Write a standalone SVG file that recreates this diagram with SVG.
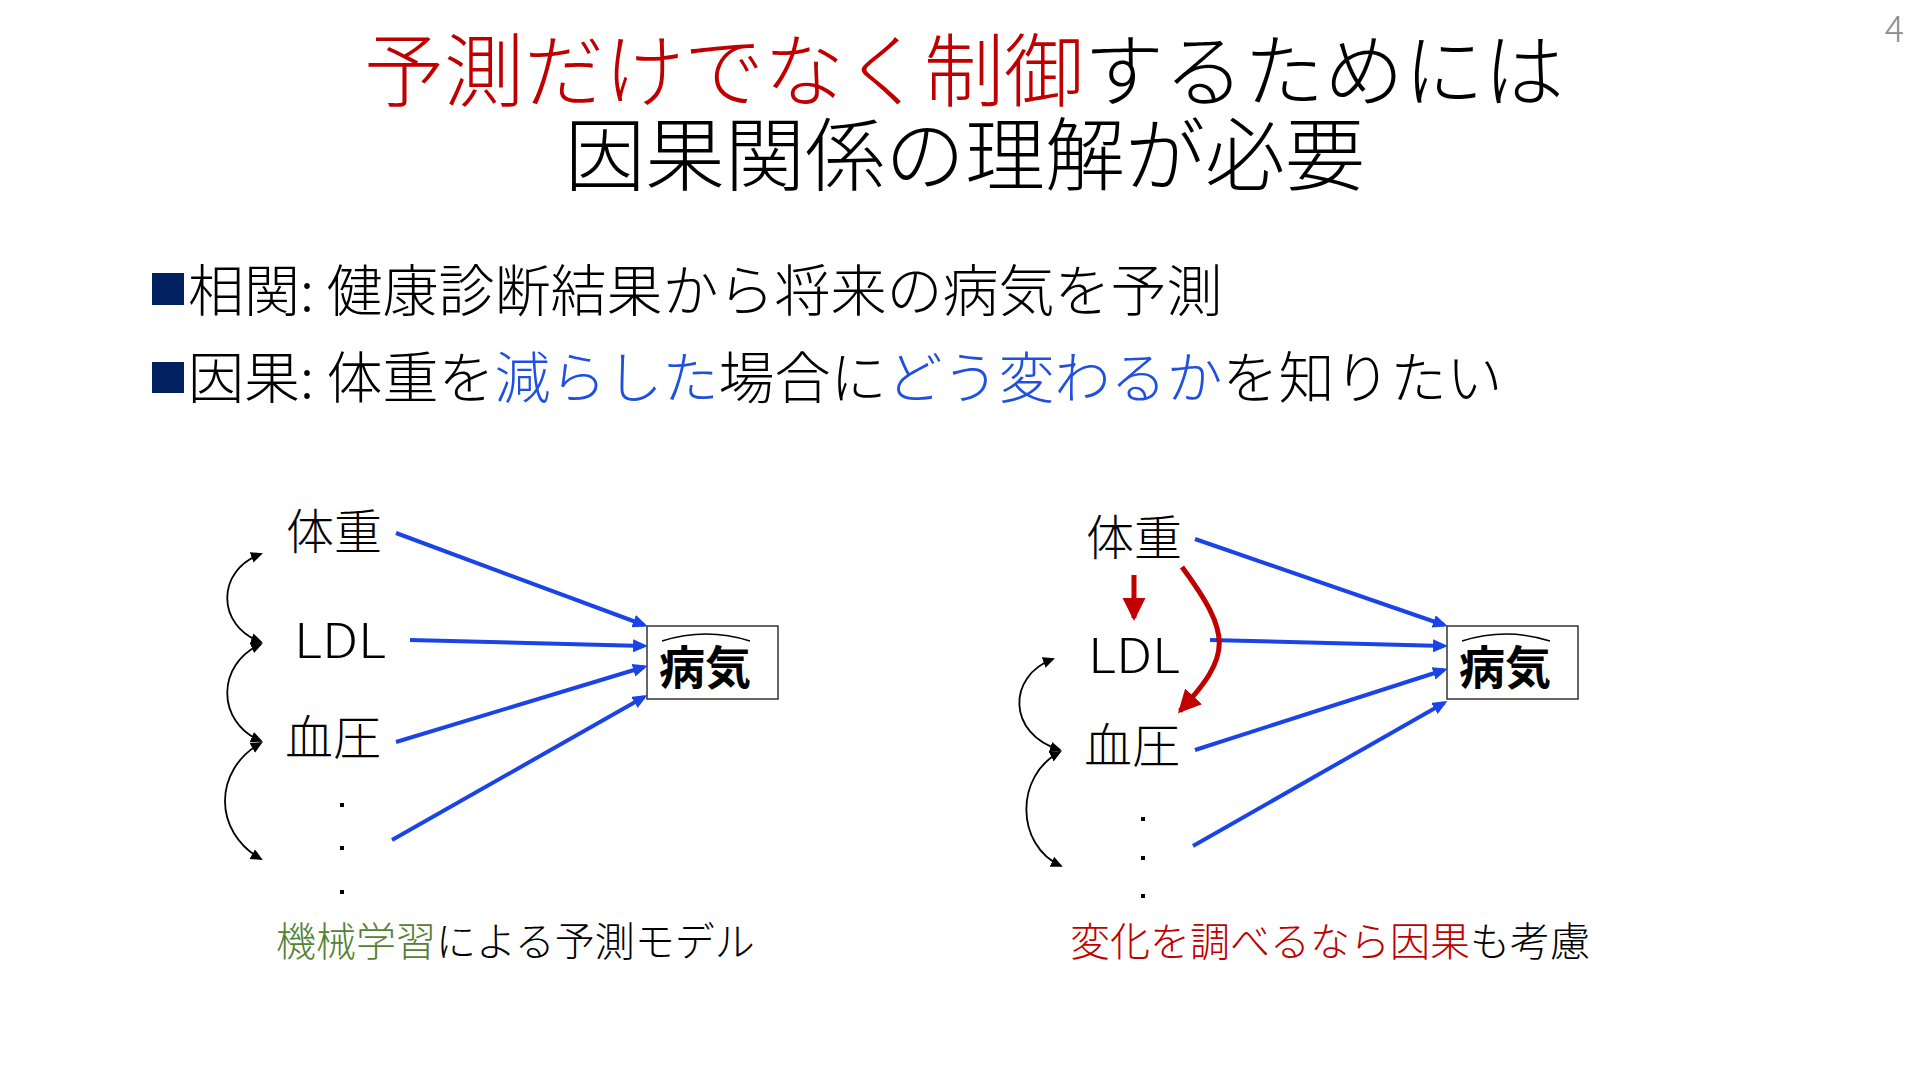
<svg xmlns="http://www.w3.org/2000/svg" width="1920" height="1080" viewBox="0 0 1920 1080">
<style>
text { font-family: "Noto Sans CJK JP", "Noto Sans", sans-serif; fill: #000; }
.title { font-size: 80px; font-weight: 300; }
.red { fill: #c00000; }
.blueT { fill: #2050e0; }
.green { fill: #548235; }
.bullet { font-size: 56px; font-weight: 300; }
.lbl { font-size: 48px; font-weight: 300; }
.cap { font-size: 40px; font-weight: 300; }
.out { font-size: 46px; font-weight: 700; }
.blue { stroke: #1a44e6; stroke-width: 4; fill: none; marker-end: url(#hb); }
.blk { stroke: #000; stroke-width: 1.8; fill: none; marker-start: url(#hk); marker-end: url(#hk); }
.redl { stroke: #c00000; stroke-width: 5; fill: none; marker-end: url(#hr); }
.box { fill: #fff; stroke: #333; stroke-width: 1.5; }
.hat { fill: none; stroke: #000; stroke-width: 1.5; }
</style>
<defs>
<marker id="hb" markerUnits="userSpaceOnUse" markerWidth="16" markerHeight="14" refX="11" refY="6.5" orient="auto"><path d="M0,0 L15,6.5 L0,13 Z" fill="#1a44e6"/></marker>
<marker id="hk" markerUnits="userSpaceOnUse" markerWidth="13" markerHeight="12" refX="10" refY="5.5" orient="auto-start-reverse"><path d="M0,0 L12,5.5 L0,11 Z" fill="#000"/></marker>
<marker id="hr" markerUnits="userSpaceOnUse" markerWidth="24" markerHeight="24" refX="20" refY="11.5" orient="auto"><path d="M0,0 L23,11.5 L0,23 Z" fill="#c00000"/></marker>
</defs>
<rect width="1920" height="1080" fill="#fff"/>

<g id="title">
<text class="title" x="364" y="100"><tspan class="red">予測だけでなく制御</tspan>するためには</text>
<text class="title" x="565" y="184">因果関係の理解が必要</text>
</g>
<g id="page-number"><text x="1904" y="42" text-anchor="end" style="font-size:36px;font-weight:300;fill:#8c8c8c">4</text></g>

<g id="bullets">
<rect x="152" y="273" width="32" height="32" fill="#002060"/>
<text class="bullet" x="188" y="311">相関: 健康診断結果から将来の病気を予測</text>
<rect x="152" y="362" width="32" height="31" fill="#002060"/>
<text class="bullet" x="188" y="398">因果: 体重を<tspan class="blueT">減らした</tspan>場合に<tspan class="blueT">どう変わるか</tspan>を知りたい</text>
</g>

<g id="left-diagram">
<g id="L-weight"><text class="lbl" x="286" y="549">体重</text></g>
<g id="L-ldl"><text class="lbl" x="294" y="658" textLength="92" lengthAdjust="spacingAndGlyphs">LDL</text></g>
<g id="L-bp"><text class="lbl" x="285" y="755">血圧</text></g>
<g id="L-dots"><rect x="340" y="803" width="4" height="4"/><rect x="340" y="846" width="4" height="4"/><rect x="340" y="890" width="4" height="4"/></g>
<g id="L-disease"><rect class="box" x="647" y="626" width="131" height="73"/><path class="hat" d="M662,641 Q706,627 750,641"/><text class="out" x="659" y="684">病気</text></g>
<g id="L-caption"><text class="cap" x="276" y="956"><tspan class="green">機械学習</tspan>による予測モデル</text></g>
</g>

<g id="right-diagram">
<g id="R-weight"><text class="lbl" x="1086" y="555">体重</text></g>
<g id="R-ldl"><text class="lbl" x="1088" y="673" textLength="92" lengthAdjust="spacingAndGlyphs">LDL</text></g>
<g id="R-bp"><text class="lbl" x="1084" y="763">血圧</text></g>
<g id="R-dots"><rect x="1141" y="817" width="4" height="4"/><rect x="1141" y="856" width="4" height="4"/><rect x="1141" y="894" width="4" height="4"/></g>
<g id="R-disease"><rect class="box" x="1447" y="626" width="131" height="73"/><path class="hat" d="M1462,641 Q1506,627 1550,641"/><text class="out" x="1459" y="684">病気</text></g>
<g id="R-caption"><text class="cap" x="1070" y="956"><tspan class="red">変化を調べるなら因果</tspan>も考慮</text></g>
</g>

<g id="connectors">
<path class="blue" d="M396,533 L644,625"/>
<path class="blue" d="M410,640 L644,646"/>
<path class="blue" d="M396,742 L644,667"/>
<path class="blue" d="M392,840 L644,697"/>
<path class="blk" d="M261,554 C216,570 216,626 261,642"/>
<path class="blk" d="M261,644 C216,664 216,722 261,741"/>
<path class="blk" d="M261,743 C213,770 213,832 261,859"/>

<path class="blue" d="M1195,539 L1444,625"/>
<path class="blue" d="M1210,640 L1444,646"/>
<path class="blue" d="M1195,750 L1444,670"/>
<path class="blue" d="M1193,846 L1444,703"/>
<path class="blk" d="M1053,659 C1007,676 1007,734 1060,750"/>
<path class="blk" d="M1060,752 C1015,775 1015,845 1061,866"/>
<path class="redl" d="M1134,575 L1134,618"/>
<path class="redl" d="M1182,567 C1232,635 1232,655 1180,711"/>
</g>
</svg>
